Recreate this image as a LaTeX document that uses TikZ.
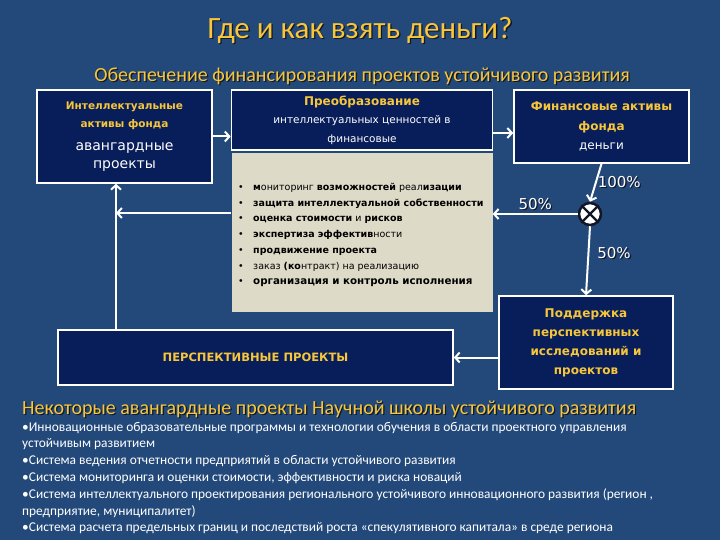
\documentclass[tikz,border=0pt]{standalone}
\usepackage{fontspec}
\setmainfont{Carlito}
\newfontfamily\boxfont{DejaVu Sans}
\usetikzlibrary{arrows.meta}
\definecolor{slide}{RGB}{35,73,122}
\definecolor{navy}{RGB}{8,30,90}
\definecolor{gold}{RGB}{247,198,58}
\definecolor{sand}{RGB}{221,218,199}
\definecolor{ink}{RGB}{18,22,38}
\newcommand{\shtext}[1]{\leavevmode\rlap{\kern1.3pt\raisebox{-1.3pt}{\color{ink}#1}}#1}
\tikzset{
    box/.style = {draw = white, line width = 1.6pt, fill = navy, align = center, inner sep = 0pt},
    flow/.style = {draw = white, line width = 2pt, -{Straight Barb[length = 4.5pt, width = 10pt]}},
    pct/.style = {text = white, inner sep = 1pt, font = \boxfont\fontsize{15}{15}\selectfont}
}
\begin{document}
\begin{tikzpicture}[x = 1pt, y = -1pt]
    \fill[slide] (0,0) rectangle (720,540);
    \useasboundingbox (0,0) rectangle (720,540);
    % headings
    \node[text = gold, font = \fontsize{31}{31}\selectfont] (title) at (360,31) {\shtext{Где и как взять деньги?}};
    \node[text = gold, font = \fontsize{20}{20}\selectfont] (sub) at (362,77) {\shtext{Обеспечение финансирования проектов устойчивого развития}};
    % boxes
    \node[box, minimum width = 175pt, minimum height = 93pt, text = white,
        font = \boxfont\fontsize{14}{17.5}\selectfont] (intel) at (124.5,136.5)
        {{\fontsize{10.5}{12}\selectfont\bfseries\color{gold}Интеллектуальные}\\
         {\fontsize{10.5}{12}\selectfont\bfseries\color{gold}активы фонда}\\[6pt]
         авангардные\\проекты};
    \node[box, minimum width = 261pt, minimum height = 60pt, text = white,
        font = \boxfont\fontsize{10.5}{18.5}\selectfont] (preob) at (362,120)
        {{\fontsize{12}{12}\selectfont\bfseries\color{gold}Преобразование}\\
         интеллектуальных ценностей в\\финансовые};
    \node[box, minimum width = 175pt, minimum height = 73pt, text = white,
        font = \boxfont\fontsize{12}{19.5}\selectfont] (fin) at (601.5,126.5)
        {{\bfseries\color{gold}Финансовые активы}\\{\bfseries\color{gold}фонда}\\деньги};
    \node[fill = sand, minimum width = 261pt, minimum height = 159pt] (tasks) at (362,232.5) {};
    \node[box, minimum width = 174pt, minimum height = 93pt, text = gold,
        font = \boxfont\bfseries\fontsize{12}{19}\selectfont] (support) at (586,342.5)
        {Поддержка\\перспективных\\исследований и\\проектов};
    \node[box, minimum width = 395pt, minimum height = 55pt, text = gold,
        font = \boxfont\bfseries\fontsize{11.5}{14}\selectfont] (persp) at (255.5,357.5)
        {ПЕРСПЕКТИВНЫЕ ПРОЕКТЫ};
    \node[circle, draw = ink, line width = 2.5pt, fill = white, minimum size = 22pt, inner sep = 0pt] (mix) at (590,214) {};
    \draw[ink, line width = 2.2pt] (mix.north east) -- (mix.south west) (mix.north west) -- (mix.south east);
    % list of tasks
    \begin{scope}[every node/.append style = {anchor = base west, inner sep = 0pt,
        font = \boxfont\fontsize{9.5}{11}\selectfont, text = black}]
        \foreach \txt [count = \i] in {
            {\textbf{м}ониторинг \textbf{возможностей} реал\textbf{изации}},
            {\textbf{защита интеллектуальной собственности}},
            {\textbf{оценка стоимости} и \textbf{рисков}},
            {\textbf{экспертиза} \textbf{эффектив}ности},
            {\textbf{продвижение проекта}},
            {заказ \textbf{(ко}нтракт) на реализацию},
            {{\fontsize{10.3}{11}\selectfont\bfseries организация и контроль исполнения}}} {
            \node (dot\i) at (238, 190.5 + 15.7*\i - 15.7) {•};
            \node (task\i) at (253, 190.5 + 15.7*\i - 15.7) {\txt};
        }
    \end{scope}
    % connectors
    \coordinate (junc) at (116,213);
    \draw[flow] (intel.east) -- (intel.east -| preob.west);
    \draw[flow] ([yshift = -13pt] preob.east) -- ([yshift = -13pt] preob.east -| fin.west);
    \draw[flow] (fin.south) -- (mix.north) node[pct, midway, anchor = west] {\shtext{100\%}};
    \draw[flow] (mix.west) -- (mix.west -| tasks.east) node[pct, midway, above = 1pt] {\shtext{50\%}};
    \draw[flow] (mix.south) -- (support.north) node[pct, pos = 0.4, anchor = west, xshift = 7pt] {\shtext{50\%}};
    \draw[flow] (support.west |- persp.east) -- (persp.east);
    \draw[flow] (persp.north -| junc) -- (intel.south -| junc);
    \draw[flow] (tasks.west |- junc) -- (junc);
    % projects
    \node[anchor = base west, inner sep = 0pt, text = gold, font = \fontsize{20}{20}\selectfont] (projects) at (22,414)
        {\shtext{Некоторые авангардные проекты Научной школы устойчивого развития}};
    \begin{scope}[every node/.append style = {anchor = base west, inner sep = 0pt, text = white,
        font = \fontsize{13.4}{14}\selectfont}]
        \foreach \txt [count = \i] in {
            {•Инновационные образовательные программы и технологии обучения в области проектного управления},
            {устойчивым развитием},
            {•Система ведения отчетности предприятий в области устойчивого развития},
            {•Система мониторинга и оценки стоимости, эффективности и риска новаций},
            {•Система интеллектуального проектирования регионального устойчивого инновационного развития (регион ,},
            {предприятие, муниципалитет)},
            {•Система расчета предельных границ и последствий роста «спекулятивного капитала» в среде региона}} {
            \node (line\i) at (22, 431 + 16.8*\i - 16.8) {\txt};
        }
    \end{scope}
\end{tikzpicture}
\end{document}
